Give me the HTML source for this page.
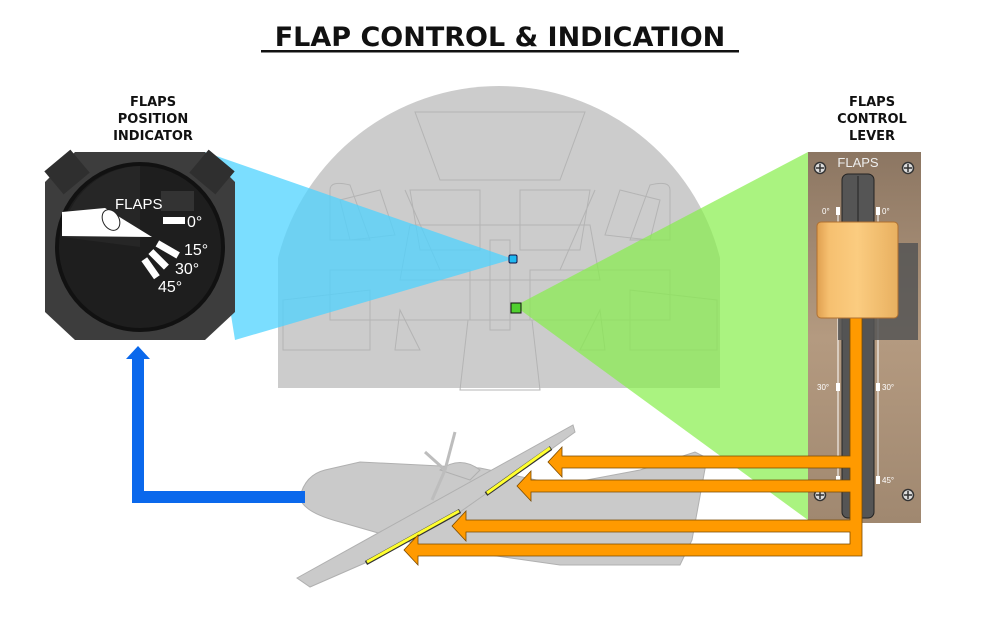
<!DOCTYPE html>
<html><head><meta charset="utf-8"><style>
html,body{margin:0;padding:0;background:#fff;}
svg{display:block;font-family:"DejaVu Sans","Liberation Sans",sans-serif;}
</style></head><body>
<svg width="1000" height="625" viewBox="0 0 1000 625" xmlns="http://www.w3.org/2000/svg">
<defs>
<linearGradient id="panel" x1="0" y1="0" x2="0" y2="1">
<stop offset="0" stop-color="#8c7662"/><stop offset="0.5" stop-color="#b49a80"/><stop offset="1" stop-color="#a08870"/></linearGradient>
<linearGradient id="knob" x1="0" y1="0" x2="1" y2="0">
<stop offset="0" stop-color="#e0a050"/><stop offset="0.15" stop-color="#f6c070"/><stop offset="0.5" stop-color="#fbcc80"/><stop offset="1" stop-color="#e8b060"/></linearGradient>
</defs>
<text x="500" y="46" text-anchor="middle" font-size="27" font-weight="bold" fill="#111">FLAP CONTROL &amp; INDICATION</text>
<rect x="261" y="50" width="478" height="2.5" fill="#111"/>
<g font-size="13" font-weight="bold" text-anchor="middle" fill="#111">
<text x="153" y="106">FLAPS</text><text x="153" y="123">POSITION</text><text x="153" y="140">INDICATOR</text>
<text x="872" y="106">FLAPS</text><text x="872" y="123">CONTROL</text><text x="872" y="140">LEVER</text>
</g>
<!-- cockpit -->
<path d="M278,388 L278,258 A228,228 0 0 1 720,258 L720,388 Z" fill="#cccccc"/>
<g fill="none" stroke="#b4b4b4" stroke-width="1">
<path d="M415,112 L585,112 L560,180 L440,180 Z"/>
<path d="M405,190 L440,270 M595,190 L560,270"/>
<path d="M410,190 L480,190 L480,250 L420,250Z M520,190 L590,190 L580,250 L520,250Z"/>
<path d="M330,190 Q330,180 350,185 L370,240 L330,240 Z M670,190 Q670,180 650,185 L630,240 L670,240Z"/>
<path d="M380,190 L395,235 L350,240 L340,200 Z M620,190 L605,235 L650,240 L660,200Z"/>
<path d="M410,225 L590,225 L600,280 L400,280 Z"/>
<path d="M330,270 L470,270 L470,320 L330,320 Z M530,270 L670,270 L670,320 L530,320Z"/>
<path d="M283,300 L370,290 L370,350 L283,350Z M717,300 L630,290 L630,350 L717,350Z"/>
<path d="M468,320 L532,320 L540,390 L460,390Z"/>
<path d="M400,310 L420,350 L395,350 Z M600,310 L580,350 L605,350Z"/>
<path d="M490,240 L510,240 L510,330 L490,330Z"/>
</g>
<!-- cones -->
<polygon points="205,152 513,259 235,340" fill="#4fd3ff" fill-opacity="0.75"/>
<polygon points="515,306 808,152 808,520" fill="#86ee4a" fill-opacity="0.7"/>
<rect x="509" y="255" width="8" height="8" rx="1.5" fill="#20b8f0" stroke="#114" stroke-width="1"/>
<rect x="511" y="303" width="10" height="10" fill="#50d030" stroke="#111" stroke-width="1"/>
<!-- indicator -->
<polygon points="75,152 205,152 235,182 235,312 205,340 75,340 45,312 45,182" fill="#3d3d3d"/>
<rect x="50" y="157" width="34" height="30" fill="#2f2f2f" transform="rotate(-40 67 172)"/>
<rect x="195" y="157" width="34" height="30" fill="#2f2f2f" transform="rotate(40 212 172)"/>
<circle cx="140" cy="247" r="85" fill="#111"/>
<circle cx="140" cy="247" r="81" fill="#1e1e1e"/>
<path d="M140,247 L62,237 A80,80 0 0 1 140,166 Z" fill="#262626"/>
<rect x="161" y="191" width="33" height="20" fill="#333"/>
<text x="115" y="209" font-size="15" fill="#fff" font-family="Liberation Sans, sans-serif">FLAPS</text>
<rect x="163" y="217" width="22" height="7" fill="#fff"/>
<text x="187" y="227" font-size="16" fill="#fff" font-family="Liberation Sans, sans-serif">0°</text>
<polygon points="62,212 105,208 152,237 62,236" fill="#fff"/>
<ellipse cx="111" cy="220" rx="8" ry="11" fill="#fff" stroke="#222" stroke-width="1" transform="rotate(-30 111 220)"/>
<rect x="156" y="246" width="24" height="7" fill="#fff" transform="rotate(30 168 249)"/>
<rect x="148" y="256" width="22" height="7" fill="#fff" transform="rotate(45 159 259)"/>
<rect x="140" y="265" width="22" height="7" fill="#fff" transform="rotate(55 151 268)"/>
<text x="184" y="255" font-size="16" fill="#fff" font-family="Liberation Sans, sans-serif">15°</text>
<text x="175" y="274" font-size="16" fill="#fff" font-family="Liberation Sans, sans-serif">30°</text>
<text x="158" y="292" font-size="16" fill="#fff" font-family="Liberation Sans, sans-serif">45°</text>
<!-- plane -->
<g fill="#cacaca" stroke="#b0b0b0" stroke-width="1">
<path d="M300,497 Q305,475 325,470 L360,462 L480,468 L560,485 L640,470 L695,452 L707,458 L692,540 L680,565 L560,565 L420,545 L340,522 Q302,512 300,497 Z"/>
<polygon points="297,578 573,425 575,432 553,448 487,493 460,512 365,563 310,587"/>
<path d="M440,470 Q460,455 480,470 L470,480 Z"/>
</g>
<g stroke="#bdbdbd" stroke-width="3" fill="none"><line x1="445" y1="470" x2="455" y2="432"/><line x1="445" y1="470" x2="425" y2="452"/><line x1="445" y1="470" x2="432" y2="500"/></g>
<g stroke="#333" stroke-width="4.5" stroke-linecap="butt"><line x1="366" y1="563" x2="460" y2="511"/><line x1="486" y1="494" x2="551" y2="448"/></g>
<g stroke="#ffff30" stroke-width="3"><line x1="367" y1="562" x2="459" y2="511"/><line x1="487" y1="493" x2="550" y2="448"/></g>
<!-- blue arrow -->
<path d="M305,497 L138,497 L138,358" fill="none" stroke="#0a68ec" stroke-width="12"/>
<polygon points="126,359 138,346 150,359" fill="#0a68ec"/>
<!-- lever panel -->
<rect x="808" y="152" width="113" height="371" fill="url(#panel)"/>
<text x="858" y="167" text-anchor="middle" font-size="13" fill="#eee" font-family="Liberation Sans, sans-serif">FLAPS</text>
<g fill="#ddd" stroke="#333" stroke-width="1.5"><circle cx="820" cy="168" r="5.5"/><circle cx="908" cy="168" r="5.5"/><circle cx="820" cy="495" r="5.5"/><circle cx="908" cy="495" r="5.5"/></g>
<g stroke="#333" stroke-width="1.5"><path d="M816,168h8M820,164v8M904,168h8M908,164v8M816,495h8M820,491v8M904,495h8M908,491v8"/></g>
<rect x="842" y="174" width="32" height="344" rx="6" fill="#555" stroke="#222" stroke-width="1"/>
<line x1="858" y1="176" x2="858" y2="516" stroke="#222" stroke-width="1"/>
<g stroke="#fff" stroke-width="1"><line x1="838" y1="210" x2="838" y2="480"/><line x1="878" y1="210" x2="878" y2="480"/></g>
<g fill="#fff"><rect x="836" y="207" width="4" height="8"/><rect x="876" y="207" width="4" height="8"/><rect x="836" y="383" width="4" height="8"/><rect x="876" y="383" width="4" height="8"/><rect x="836" y="476" width="4" height="8"/><rect x="876" y="476" width="4" height="8"/></g>
<g font-size="8" fill="#fff" font-family="Liberation Sans, sans-serif"><text x="822" y="214">0°</text><text x="882" y="214">0°</text><text x="817" y="390">30°</text><text x="882" y="390">30°</text><text x="882" y="483">45°</text></g>
<rect x="838" y="243" width="80" height="97" fill="#555" fill-opacity="0.85"/>
<!-- orange -->
<g fill="#ff9a00" stroke="#7a4a00" stroke-width="0.8">
<path d="M850,318 L862,318 L862,556 L418,556 L418,565 L404,550 L418,535 L418,544 L850,544 L850,532 L466,532 L466,541 L452,526 L466,511 L466,520 L850,520 L850,492 L531,492 L531,501 L517,486 L531,471 L531,480 L850,480 L850,468 L562,468 L562,477 L548,462 L562,447 L562,456 L850,456 Z"/>
</g>
<rect x="817" y="222" width="81" height="96" rx="4" fill="url(#knob)" stroke="#b07030" stroke-width="1"/>
</svg>
</body></html>
